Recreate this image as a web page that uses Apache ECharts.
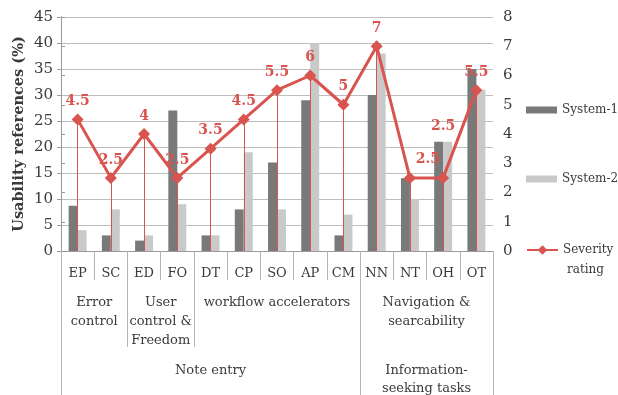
<!DOCTYPE html>
<html>
<head>
<meta charset="utf-8">
<title>Usability references and severity rating</title>
<script src="https://cdn.jsdelivr.net/npm/echarts@6/dist/echarts.min.js"></script>
<style>
  html, body { margin: 0; padding: 0; background: #ffffff; }
  #chart { width: 618px; height: 395px; }
</style>
</head>
<body>
<div id="chart"></div>
<script>
// Heuristic categories, grouped by heuristic family and by task type
const categories = ['EP', 'SC', 'ED', 'FO', 'DT', 'CP', 'SO', 'AP', 'CM', 'NN', 'NT', 'OH', 'OT'];
const system1 = [8.7, 3, 2, 27, 3, 8, 17, 29, 3, 30, 14, 21, 35];
const system2 = [4, 8, 3, 9, 3, 19, 8, 40, 7, 38, 10, 21, 31];
const severity = [4.5, 2.5, 4, 2.5, 3.5, 4.5, 5.5, 6, 5, 7, 2.5, 2.5, 5.5];

const groupNames = ['Error\ncontrol', 'User\ncontrol &\nFreedom', 'workflow accelerators', 'Navigation &\nsearcability'];
const groupSizes = [2, 2, 5, 4];
const taskNames = ['Note entry', 'Information-\nseeking tasks'];
const taskSizes = [9, 4];

const leftTicks = { min: 0, max: 45, interval: 5 };
const rightTicks = { min: 0, max: 8, interval: 1 };

const FONT = 'DejaVu Serif';
const TEXT = '#3a3a3a';
const RED = '#d9534f';
const SEP = '#b5b5b5';

// Nudges for severity labels that would otherwise collide (pixels)
const labelNudge = { NT: [18, -1], OH: [0, -34] };

// Turn a list of span sizes into boundary positions and centre positions
function spans(sizes) {
  const bounds = [0];
  const centres = [];
  let acc = 0;
  sizes.forEach(s => { centres.push(acc + s / 2); acc += s; bounds.push(acc); });
  return { bounds, centres };
}
const g = spans(groupSizes);
const t = spans(taskSizes);
const groupLabel = {};
g.centres.forEach((c, i) => { groupLabel[c] = groupNames[i]; });
const taskLabel = {};
t.centres.forEach((c, i) => { taskLabel[c] = taskNames[i]; });

const n = categories.length;
const bandAxis = (extra) => Object.assign({
  type: 'value', min: 0, max: n, position: 'bottom',
  axisLine: { show: false }, splitLine: { show: false }
}, extra);

const severityData = severity.map((v, i) => {
  const nudge = labelNudge[categories[i]];
  return nudge ? { value: v, label: { offset: nudge } } : v;
});

const chart = echarts.init(document.getElementById('chart'), null, { renderer: 'canvas' });
chart.setOption({
  animation: false,
  textStyle: { fontFamily: FONT },
  grid: { left: 61, right: 125, top: 17, bottom: 144, outerBoundsMode: 'none', containLabel: false },
  legend: [
    {
      orient: 'vertical', left: 521, top: 99, itemGap: 57,
      itemWidth: 31, itemHeight: 7,
      textStyle: { fontFamily: FONT, fontSize: 12, color: TEXT },
      data: [{ name: 'System-1', icon: 'rect' }, { name: 'System-2', icon: 'rect' }]
    },
    {
      orient: 'vertical', left: 521, top: 215,
      itemWidth: 31, itemHeight: 12,
      formatter: name => {
        const parts = name.split('\n');
        return '\n{a|' + parts[0] + '}\n{b|' + parts[1] + '}';
      },
      textStyle: {
        fontFamily: FONT, fontSize: 12, color: TEXT, lineHeight: 20,
        rich: {
          a: { fontFamily: FONT, fontSize: 12, color: TEXT, lineHeight: 20 },
          b: { fontFamily: FONT, fontSize: 12, color: TEXT, lineHeight: 20, padding: [0, 0, 0, 4] }
        }
      },
      data: [{ name: 'Severity\nrating' }]
    }
  ],
  xAxis: [
    {
      type: 'category', data: categories, position: 'bottom',
      axisLine: { lineStyle: { color: '#9a9a9a' } },
      axisTick: { show: true, length: 29, lineStyle: { color: SEP } },
      axisLabel: { margin: 16, fontSize: 13, color: TEXT, fontFamily: FONT }
    },
    bandAxis({
      axisTick: { show: true, length: 96, customValues: g.bounds.slice(1, -1), lineStyle: { color: SEP } },
      axisLabel: {
        customValues: g.centres, margin: 42, fontSize: 13, lineHeight: 19, color: TEXT, fontFamily: FONT,
        formatter: v => groupLabel[v] || ''
      }
    }),
    bandAxis({
      axisTick: { show: true, length: 144, customValues: t.bounds, lineStyle: { color: SEP } },
      axisLabel: {
        customValues: t.centres, margin: 111, fontSize: 13, lineHeight: 18, color: TEXT, fontFamily: FONT,
        formatter: v => taskLabel[v] || ''
      }
    })
  ],
  yAxis: [
    Object.assign({
      type: 'value', position: 'left',
      name: 'Usability references (%)', nameLocation: 'middle', nameGap: 34, nameRotate: 90,
      nameMoveOverlap: false,
      nameTextStyle: { fontFamily: FONT, fontSize: 14.5, fontWeight: 'bold', color: TEXT },
      axisLine: { show: true, lineStyle: { color: '#9a9a9a' } },
      axisTick: { show: true, length: 4, lineStyle: { color: '#9a9a9a' } },
      axisLabel: { fontSize: 15, color: TEXT, margin: 8, fontFamily: FONT },
      splitLine: { lineStyle: { color: '#bdbdbd', width: 1 } }
    }, leftTicks),
    Object.assign({
      type: 'value', position: 'right',
      axisLine: { show: true, lineStyle: { color: '#9a9a9a' } },
      axisTick: { show: true, length: 4, lineStyle: { color: '#9a9a9a' } },
      axisLabel: { fontSize: 15, color: TEXT, margin: 10, fontFamily: FONT },
      splitLine: { show: false }
    }, rightTicks)
  ],
  series: [
    {
      name: 'System-1', type: 'bar', xAxisIndex: 0, yAxisIndex: 0,
      data: system1, barGap: '0%', barCategoryGap: '46%',
      itemStyle: { color: '#797979' }
    },
    {
      name: 'System-2', type: 'bar', xAxisIndex: 0, yAxisIndex: 0,
      data: system2,
      itemStyle: { color: '#c9c9c9' }
    },
    {
      name: 'Severity\nrating', type: 'line', xAxisIndex: 0, yAxisIndex: 1,
      data: severityData,
      symbol: 'diamond', symbolSize: 12,
      lineStyle: { color: RED, width: 3 },
      itemStyle: { color: RED },
      label: {
        show: true, position: 'top', distance: 5,
        color: RED, fontWeight: 'bold', fontSize: 14, fontFamily: FONT
      },
      markLine: {
        silent: true, symbol: 'none', animation: false,
        label: { show: false },
        lineStyle: { color: RED, width: 1, type: 'solid' },
        data: severity.map((v, i) => [{ coord: [categories[i], 0] }, { coord: [categories[i], v] }])
      },
      z: 5
    }
  ]
});
</script>
</body>
</html>
